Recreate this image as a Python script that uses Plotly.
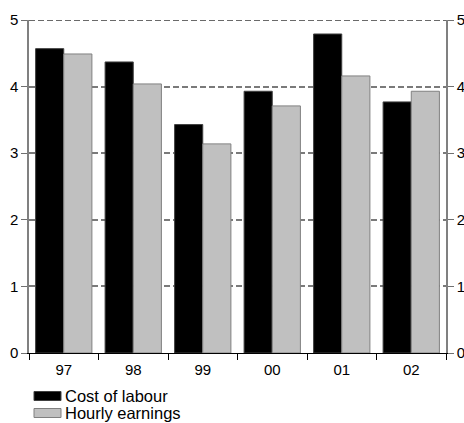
import plotly.graph_objects as go

years = ["97", "98", "99", "00", "01", "02"]
cost_of_labour = [4.57, 4.37, 3.43, 3.93, 4.79, 3.77]
hourly_earnings = [4.49, 4.04, 3.14, 3.71, 4.16, 3.93]
series_names = ["Cost of labour", "Hourly earnings"]
y_ticks = [0, 1, 2, 3, 4, 5]

fig = go.Figure()
fig.add_trace(go.Bar(x=years, y=cost_of_labour, name=series_names[0],
                     marker=dict(color="#000000", line=dict(color="#404040", width=1))))
fig.add_trace(go.Bar(x=years, y=hourly_earnings, name=series_names[1],
                     marker=dict(color="#c0c0c0", line=dict(color="#808080", width=1))))
fig.add_trace(go.Scatter(x=[years[0]], y=[0], yaxis="y2", mode="markers",
                         marker=dict(opacity=0), showlegend=False, hoverinfo="skip"))

fam = "Liberation Sans, Arial, sans-serif"
font = dict(family=fam, size=15, color="#000000")
fig.update_layout(
    width=464, height=423, autosize=False,
    margin=dict(l=29, r=18, t=20, b=70, autoexpand=False),
    paper_bgcolor="white", plot_bgcolor="white",
    barmode="group", bargap=0.19, bargroupgap=0,
    showlegend=False,
    font=font,
    xaxis=dict(type="category", tickson="boundaries", ticks="outside", ticklen=6,
               tickcolor="#000000", showline=True, linecolor="#000000", linewidth=1,
               showgrid=False, tickfont=font, automargin=False, ticklabelstandoff=3),
    yaxis=dict(range=[0, 5], tickvals=y_ticks, ticks="outside", ticklen=6,
               tickcolor="#707070", showline=True, linecolor="#808080", linewidth=1.5,
               showgrid=True, gridcolor="#7a7a7a", griddash="6px,3px", gridwidth=1.8,
               zeroline=False, tickfont=font, automargin=False),
    yaxis2=dict(range=[0, 5], tickvals=y_ticks, overlaying="y", side="right",
                ticks="outside", ticklen=6, tickcolor="#707070", showline=True,
                linecolor="#808080", linewidth=1.5, showgrid=False, zeroline=False,
                tickfont=font, automargin=False),
)

# top gridline (plotly drops gridlines at the range edge)
fig.add_shape(type="line", xref="paper", yref="y", x0=0, x1=1,
              y0=y_ticks[-1], y1=y_ticks[-1], layer="below",
              line=dict(color="#6a6a6a", width=2, dash="6px,3px"))

# Legend drawn below plot
colors = [("#000000", "#404040"), ("#c0c0c0", "#808080")]
for i, name in enumerate(series_names):
    y_center = 396 + i * 17
    fig.add_shape(type="rect", xref="paper", yref="paper",
                  x0=(34 - 29) / 417, x1=(61 - 29) / 417,
                  y0=(353 - (y_center + 4.5)) / 333, y1=(353 - (y_center - 4.5)) / 333,
                  fillcolor=colors[i][0], line=dict(color=colors[i][1], width=1))
    fig.add_annotation(xref="paper", yref="paper", x=(63 - 29) / 417,
                       y=(353 - y_center + 0.5) / 333, text=name, showarrow=False,
                       xanchor="left", yanchor="middle",
                       font=dict(family=fam, size=16.5, color="#000000"))

fig.write_html("out.html", config={"displayModeBar": False},
               post_script="document.body.style.margin='0';document.body.style.overflow='hidden';")
